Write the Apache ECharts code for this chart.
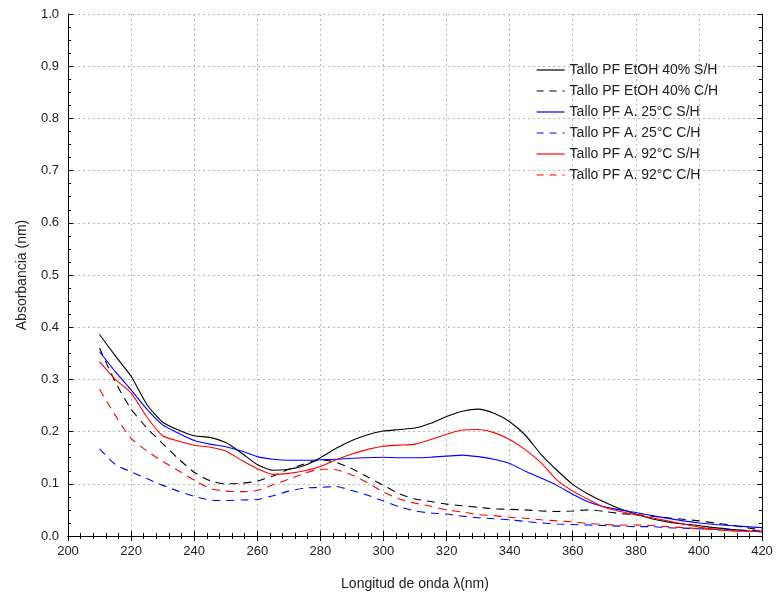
<!DOCTYPE html>
<html>
<head>
<meta charset="utf-8">
<script src="https://cdn.jsdelivr.net/npm/echarts@6/dist/echarts.min.js"></script>
<style>
  html, body { margin: 0; padding: 0; background: #fff; }
  #chart { width: 776px; height: 598px; }
</style>
</head>
<body>
<div id="chart"></div>
<script>
// longitud de onda (nm)
var wavelengths = [210, 215, 220, 225, 230, 235, 240, 245, 250, 255, 260, 265, 270, 275, 280, 285, 290, 295, 300, 305, 310, 315, 320, 325, 330, 335, 340, 345, 350, 355, 360, 365, 370, 375, 380, 385, 390, 395, 400, 405, 410, 415, 420]

var names = ['Tallo PF EtOH 40% S/H', 'Tallo PF EtOH 40% C/H', 'Tallo PF A. 25°C S/H', 'Tallo PF A. 25°C C/H', 'Tallo PF A. 92°C S/H', 'Tallo PF A. 92°C C/H']

var etohSH = [0.386, 0.345, 0.306, 0.252, 0.218, 0.203, 0.192, 0.189, 0.179, 0.159, 0.137, 0.126, 0.128, 0.135, 0.150, 0.168, 0.183, 0.194, 0.201, 0.204, 0.207, 0.216, 0.229, 0.239, 0.243, 0.235, 0.219, 0.193, 0.156, 0.126, 0.099, 0.080, 0.065, 0.052, 0.042, 0.033, 0.027, 0.023, 0.020, 0.016, 0.013, 0.010, 0.008]
var etohCH = [0.360, 0.295, 0.243, 0.207, 0.177, 0.148, 0.122, 0.106, 0.100, 0.101, 0.105, 0.115, 0.128, 0.138, 0.146, 0.141, 0.129, 0.113, 0.097, 0.081, 0.071, 0.066, 0.061, 0.058, 0.055, 0.052, 0.051, 0.050, 0.048, 0.047, 0.048, 0.050, 0.047, 0.043, 0.041, 0.038, 0.035, 0.032, 0.029, 0.025, 0.021, 0.016, 0.011]
var a25SH = [0.353, 0.315, 0.280, 0.243, 0.213, 0.197, 0.183, 0.176, 0.171, 0.163, 0.152, 0.147, 0.145, 0.145, 0.146, 0.147, 0.149, 0.150, 0.151, 0.150, 0.150, 0.151, 0.153, 0.155, 0.152, 0.147, 0.139, 0.124, 0.111, 0.097, 0.080, 0.065, 0.056, 0.050, 0.045, 0.039, 0.034, 0.029, 0.025, 0.022, 0.020, 0.018, 0.016]
var a25CH = [0.167, 0.137, 0.123, 0.110, 0.097, 0.086, 0.076, 0.069, 0.068, 0.069, 0.070, 0.077, 0.086, 0.092, 0.093, 0.095, 0.087, 0.078, 0.067, 0.056, 0.048, 0.044, 0.042, 0.038, 0.035, 0.033, 0.031, 0.028, 0.025, 0.023, 0.022, 0.021, 0.020, 0.019, 0.018, 0.018, 0.016, 0.015, 0.014, 0.013, 0.012, 0.011, 0.010]
var a92SH = [0.334, 0.300, 0.274, 0.228, 0.192, 0.182, 0.174, 0.170, 0.163, 0.145, 0.129, 0.118, 0.120, 0.125, 0.133, 0.146, 0.157, 0.166, 0.172, 0.174, 0.176, 0.185, 0.195, 0.203, 0.204, 0.198, 0.185, 0.165, 0.140, 0.107, 0.086, 0.070, 0.055, 0.047, 0.041, 0.035, 0.029, 0.023, 0.017, 0.013, 0.010, 0.009, 0.008]
var a92CH = [0.281, 0.231, 0.187, 0.163, 0.143, 0.125, 0.107, 0.091, 0.086, 0.085, 0.087, 0.098, 0.109, 0.120, 0.128, 0.127, 0.117, 0.102, 0.084, 0.071, 0.063, 0.057, 0.050, 0.046, 0.041, 0.039, 0.036, 0.034, 0.031, 0.029, 0.027, 0.024, 0.022, 0.021, 0.021, 0.020, 0.018, 0.016, 0.014, 0.012, 0.010, 0.009, 0.008]

var seriesValues = [etohSH, etohCH, a25SH, a25CH, a92SH, a92CH]
var colors = ['#000000', '#000000', '#0000ff', '#0000ff', '#ff0000', '#ff0000']
var dashed = [false, true, false, true, false, true]

var chart = echarts.init(document.getElementById('chart'))
var font = 'Liberation Sans, Arial, sans-serif'

function pairs(ys) {
  return wavelengths.map(function (x, i) { return [x, ys[i]] })
}

var frameX = {
  type: 'value', min: 200, max: 420, interval: 20,
  axisLine: { show: true, lineStyle: { color: '#000', width: 1 } },
  axisTick: { show: true, inside: true, length: 5, lineStyle: { color: '#000' } },
  minorTick: { show: true, splitNumber: 5, length: 3, lineStyle: { color: '#000' } }
}
var frameY = {
  type: 'value', min: 0, max: 1, interval: 0.1,
  axisLine: { show: true, lineStyle: { color: '#000', width: 1 } },
  axisTick: { show: true, inside: true, length: 5, lineStyle: { color: '#000' } },
  minorTick: { show: true, splitNumber: 4, length: 3, lineStyle: { color: '#000' } }
}

var option = {
  backgroundColor: '#fff',
  animation: false,
  color: colors,
  grid: { left: 68, right: 14, top: 14, bottom: 62 },
  legend: {
    orient: 'vertical',
    left: 531,
    top: 58,
    itemWidth: 28,
    itemHeight: 14,
    itemGap: 7,
    textStyle: { fontFamily: font, fontSize: 14, color: '#222' },
    data: names.map(function (n, i) {
      return {
        name: n,
        itemStyle: { opacity: 0 },
        lineStyle: { color: colors[i], width: 1.2, type: dashed[i] ? [7, 6] : 'solid' }
      }
    })
  },
  xAxis: [
    Object.assign({}, frameX, {
      position: 'bottom',
      name: 'Longitud de onda λ(nm)',
      nameLocation: 'middle',
      nameGap: 41,
      nameTextStyle: { fontFamily: font, fontSize: 14, color: '#222' },
      axisLabel: { fontFamily: font, fontSize: 13, color: '#222', margin: 9 },
      splitLine: { show: true, lineStyle: { type: [2, 3], color: '#b8b8b8' } }
    }),
    Object.assign({}, frameX, {
      position: 'top',
      axisLabel: { show: false },
      splitLine: { show: false }
    })
  ],
  yAxis: [
    Object.assign({}, frameY, {
      position: 'left',
      name: 'Absorbancia (nm)',
      nameLocation: 'middle',
      nameGap: 39,
      nameTextStyle: { fontFamily: font, fontSize: 14, color: '#222' },
      axisLabel: { fontFamily: font, fontSize: 13, color: '#222', margin: 9,
        formatter: function (v) { return v.toFixed(1) } },
      splitLine: { show: true, lineStyle: { type: [2, 3], color: '#b8b8b8' } }
    }),
    Object.assign({}, frameY, {
      position: 'right',
      axisLabel: { show: false },
      splitLine: { show: false }
    })
  ],
  series: seriesValues.map(function (vals, i) {
    return {
      name: names[i],
      type: 'line',
      xAxisIndex: 0,
      yAxisIndex: 0,
      showSymbol: false,
      symbol: 'none',
      smooth: 0.2,
      data: pairs(vals),
      lineStyle: { color: colors[i], width: 1.1, type: dashed[i] ? [8, 6] : 'solid' },
      itemStyle: { color: colors[i] }
    }
  })
}

chart.setOption(option)
</script>
</body>
</html>
